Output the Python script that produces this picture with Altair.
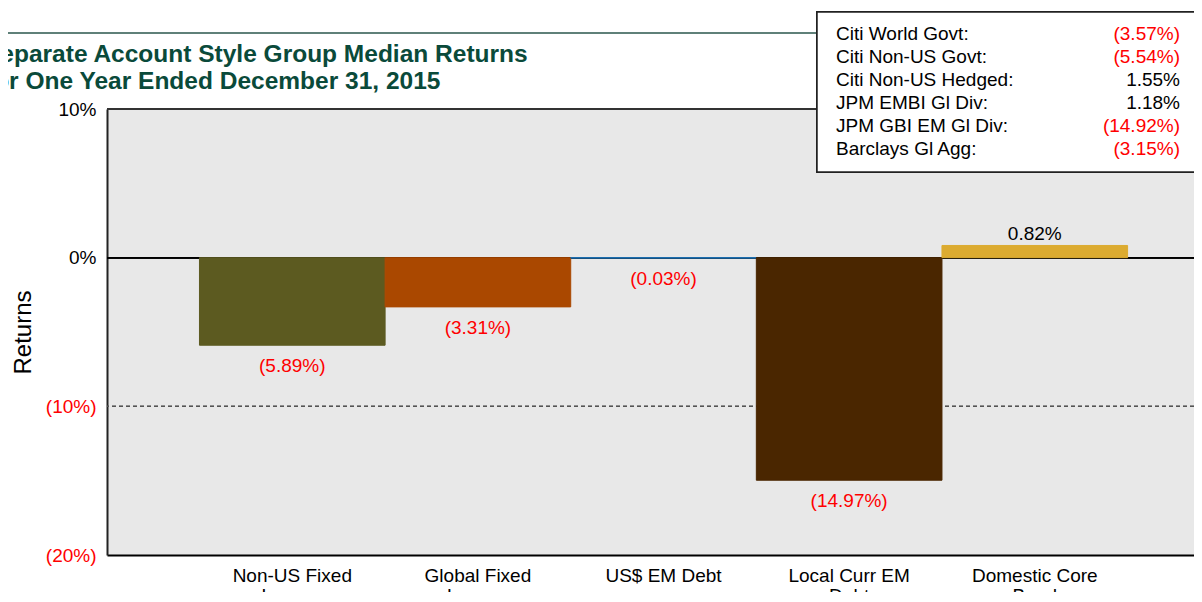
import altair as alt
import pandas as pd

# ---------------- data ----------------
categories = ["Non-US Fixed|Income", "Global Fixed|Income", "US$ EM Debt",
              "Local Curr EM|Debt", "Domestic Core|Bond"]
returns = [-5.89, -3.31, -0.03, -14.97, 0.82]
bar_colors = ["#5c5a20", "#aa4800", "#1f77bd", "#4a2600", "#dcab30"]

index_names = ["Citi World Govt:", "Citi Non-US Govt:", "Citi Non-US Hedged:",
               "JPM EMBI Gl Div:", "JPM GBI EM Gl Div:", "Barclays Gl Agg:"]
index_returns = [-3.57, -5.54, 1.55, 1.18, -14.92, -3.15]

title_lines = ["Separate Account Style Group Median Returns",
               "for One Year Ended December 31, 2015"]
y_ticks = [-20, -10, 0, 10]

FONT = "Liberation Sans"
RED = "#ff0000"

df = pd.DataFrame({"cat": categories, "ret": returns})
df_idx = pd.DataFrame({"name": index_names, "val": index_returns})

fmt_expr = ("datum.{f} < 0 ? '(' + format(abs(datum.{f}), '.2f') + '%)' : "
            "format(datum.{f}, '.2f') + '%'")

x_enc = alt.X(
    "cat:N", sort=categories,
    scale=alt.Scale(paddingInner=0, paddingOuter=0.428, align=0.582),
    axis=alt.Axis(title=None, labelExpr="split(datum.label, '|')", labelAngle=0,
                  labelFontSize=19, labelColor="black", labelPadding=11,
                  labelLineHeight=20, ticks=False, domainColor="black",
                  domainWidth=2),
)
y_scale = alt.Scale(domain=[-20, 10], nice=False, zero=False)
y_enc = alt.Y(
    "ret:Q", scale=y_scale,
    axis=alt.Axis(values=y_ticks, grid=False, ticks=False,
                  labelExpr="datum.value < 0 ? '(' + abs(datum.value) + '%)' : datum.value + '%'",
                  labelColor={"condition": {"test": "datum.value < 0", "value": RED},
                              "value": "#000000"},
                  labelFontSize=19, labelPadding=11,
                  title="Returns", titleFontSize=24, titleFontWeight="normal",
                  titleColor="black", titlePadding=10,
                  domainColor="#222222", domainWidth=2),
)

base = alt.Chart(df)

top_line = alt.Chart(df).mark_rule(color="#333333", strokeWidth=2).encode(y=alt.datum(10))
dash_line = alt.Chart(df).mark_rule(color="#555555", strokeWidth=1, strokeDash=[4, 3]).encode(
    y=alt.datum(-10))
zero_line = alt.Chart(df).mark_rule(color="black", strokeWidth=1.5).encode(y=alt.datum(0))

bars = base.mark_bar(strokeWidth=1).encode(
    x=x_enc,
    y=y_enc,
    y2=alt.datum(0),
    color=alt.Color("cat:N", scale=alt.Scale(domain=categories, range=bar_colors), legend=None),
    stroke=alt.Stroke("cat:N", scale=alt.Scale(domain=categories, range=bar_colors), legend=None),
)

neg_labels = base.transform_filter("datum.ret < 0").transform_calculate(
    lbl=fmt_expr.format(f="ret")
).mark_text(fontSize=19, color=RED, baseline="middle", dy=21).encode(
    x=alt.X("cat:N", sort=categories), y=alt.Y("ret:Q"), text="lbl:N")

pos_labels = base.transform_filter("datum.ret >= 0").transform_calculate(
    lbl=fmt_expr.format(f="ret")
).mark_text(fontSize=19, color="black", baseline="middle", dy=-11).encode(
    x=alt.X("cat:N", sort=categories), y=alt.Y("ret:Q"), text="lbl:N")

# title lines (partly cut at left, as in the reference)
t1 = alt.Chart(pd.DataFrame({"t": [title_lines[0]]})).mark_text(
    fontSize=24.5, fontWeight="bold", color="#0a4a3a", align="left", baseline="alphabetic"
).encode(x=alt.value(-123), y=alt.value(-47), text="t:N")
t2 = alt.Chart(pd.DataFrame({"t": [title_lines[1]]})).mark_text(
    fontSize=24.5, fontWeight="bold", color="#0a4a3a", align="left", baseline="alphabetic"
).encode(x=alt.value(-121), y=alt.value(-20), text="t:N")

header_rule = alt.Chart(df).mark_rule(color="#5f807a", strokeWidth=1.5).encode(
    x=alt.value(-107), x2=alt.value(710), y=alt.value(-76))

box = alt.Chart(df).mark_rect(fill="white", stroke="#222222", strokeWidth=1.5).encode(
    x=alt.value(710), x2=alt.value(1090), y=alt.value(-97), y2=alt.value(63))

row_scale = alt.Scale(type="point", domain=index_names, range=[-75, 40], padding=0)
idx_names = alt.Chart(df_idx).mark_text(
    fontSize=19, align="left", baseline="middle", color="black"
).encode(x=alt.value(729), y=alt.Y("name:N", scale=row_scale, axis=None), text="name:N")
idx_vals = alt.Chart(df_idx).transform_calculate(
    lbl=fmt_expr.format(f="val")
).mark_text(fontSize=19, align="right", baseline="middle").encode(
    x=alt.value(1073), y=alt.Y("name:N", scale=row_scale, axis=None), text="lbl:N",
    color=alt.condition("datum.val < 0", alt.value(RED), alt.value("#000000")))

main = alt.layer(top_line, dash_line, zero_line, bars, neg_labels, pos_labels)
annot = alt.layer(header_rule, t1, t2, box)
legend_txt = alt.layer(idx_names, idx_vals)

chart = alt.layer(main, annot, legend_txt).resolve_scale(y="independent").properties(
    width=1087, height=446,
    autosize=alt.AutoSizeParams(type="none"),
    padding={"left": 99, "top": 101, "right": 0, "bottom": 37},
).configure(font=FONT).configure_view(fill="#e8e8e8", stroke="transparent")

chart.save("out.html", embed_options={"renderer": "svg", "actions": False})
